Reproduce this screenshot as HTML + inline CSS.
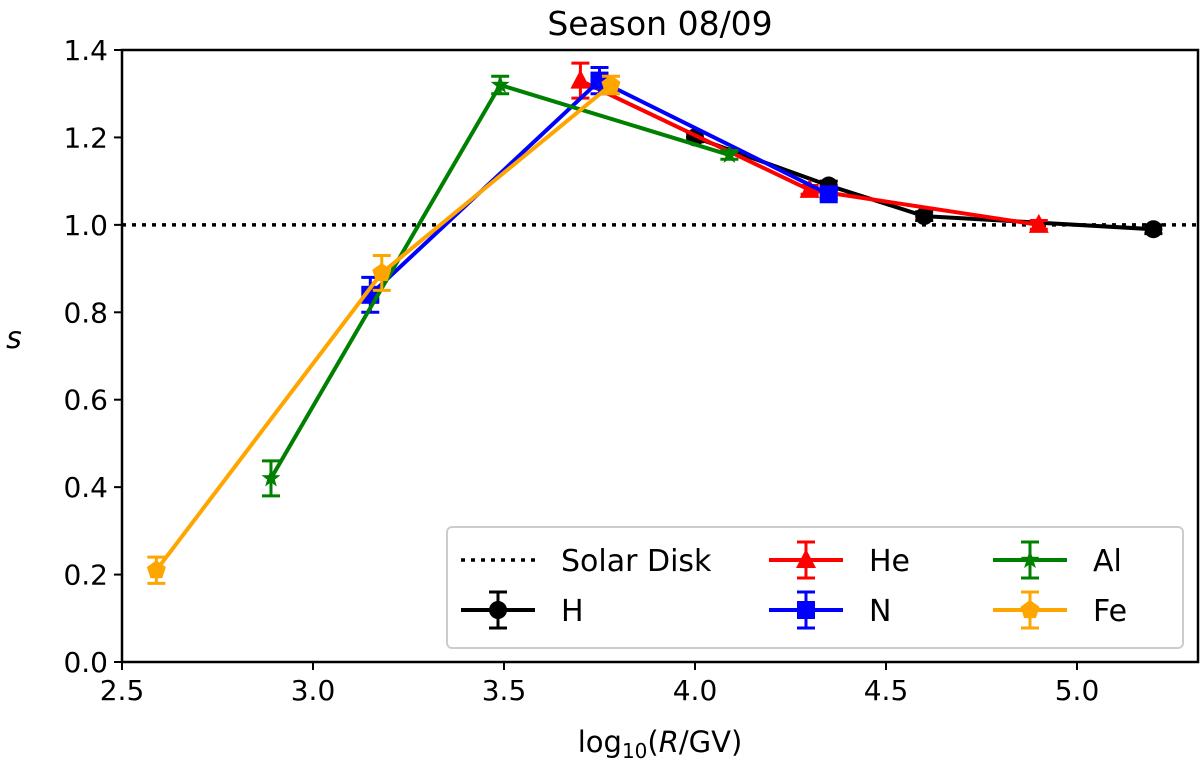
<!DOCTYPE html>
<html><head><meta charset="utf-8"><style>
body{margin:0;background:#fff;}
svg text{font-family:"DejaVu Sans","Liberation Sans",sans-serif;}
</style></head><body>
<svg id="chart" width="1200" height="769" xmlns="http://www.w3.org/2000/svg">
<g id="plot"></g>
</svg>
<script>
const xTicks=[2.5,3.0,3.5,4.0,4.5,5.0];
const yTicks=[0.0,0.2,0.4,0.6,0.8,1.0,1.2,1.4];
const hX=[4.0,4.35,4.6,5.2], hY=[1.20,1.09,1.02,0.99], hE=[0.01,0.01,0.01,0.01];
const heX=[3.7,4.3,4.9], heY=[1.33,1.08,1.00], heE=[0.04,0.01,0.01];
const nX=[3.15,3.75,4.35], nY=[0.84,1.33,1.07], nE=[0.04,0.03,0.01];
const alX=[2.89,3.49,4.09], alY=[0.42,1.32,1.16], alE=[0.04,0.02,0.01];
const feX=[2.59,3.18,3.78], feY=[0.21,0.89,1.32], feE=[0.03,0.04,0.02];
const NS="http://www.w3.org/2000/svg";
const L=122,R=1198,T=50,B=662;
const xs=v=>313+(v-3.0)*382;
const ys=v=>B-v*(B-T)/1.4;
const g=document.getElementById('plot');
function el(t,a,p){const e=document.createElementNS(NS,t);for(const k in a)e.setAttribute(k,a[k]);(p||g).appendChild(e);return e;}
const sd=el('line',{x1:L,x2:R,y1:ys(1),y2:ys(1),stroke:'#000','stroke-width':3.5,'stroke-dasharray':'4 6'});


function marker(shape,x,y,c,p){
  let m;
  if(shape==='o')m=el('circle',{cx:x,cy:y,r:9,fill:c},p);
  else if(shape==='s')m=el('rect',{x:x-9,y:y-9,width:18,height:18,fill:c},p);
  else if(shape==='^')m=el('polygon',{points:`${x},${y-11} ${x-10},${y+8} ${x+10},${y+8}`,fill:c},p);
  else if(shape==='*'){let pts=[];for(let i=0;i<10;i++){const r=i%2?4:10,a=-Math.PI/2+i*Math.PI/5;pts.push((x+r*Math.cos(a))+','+(y+r*Math.sin(a)));}m=el('polygon',{points:pts.join(' '),fill:c},p);}
  else {let pts=[];for(let i=0;i<5;i++){const a=-Math.PI/2+i*2*Math.PI/5;pts.push((x+10*Math.cos(a))+','+(y+10*Math.sin(a)));}m=el('polygon',{points:pts.join(' '),fill:c},p);}
  return m;
}
function series(name,X,Y,E,c,shape){
  const sg=el('g',{});
  
  
  el('polyline',{points:X.map((x,i)=>xs(x)+','+ys(Y[i])).join(' '),fill:'none',stroke:c,'stroke-width':4},sg);
  X.forEach((x,i)=>{
    const px=xs(x),y1=ys(Y[i]+E[i]),y2=ys(Y[i]-E[i]);
    el('line',{x1:px,x2:px,y1:y1,y2:y2,stroke:c,'stroke-width':3},sg);
    el('line',{x1:px-9,x2:px+9,y1:y1,y2:y1,stroke:c,'stroke-width':3},sg);
    el('line',{x1:px-9,x2:px+9,y1:y2,y2:y2,stroke:c,'stroke-width':3},sg);
    const m=marker(shape,px,ys(Y[i]),c,sg);
    
    
  });
}
series('h',hX,hY,hE,'#000','o');
series('he',heX,heY,heE,'#f00','^');
series('n',nX,nY,nE,'#00f','s');
series('al',alX,alY,alE,'#008000','*');
series('fe',feX,feY,feE,'#ffa500','p');
const fr=el('rect',{x:L,y:T,width:R-L,height:B-T,fill:'none',stroke:'#000','stroke-width':2.5});


xTicks.forEach(v=>{
  el('line',{x1:xs(v),x2:xs(v),y1:B,y2:B+8,stroke:'#000','stroke-width':2});
  const t=el('text',{x:xs(v),y:B+38,'text-anchor':'middle','font-size':28});
  t.textContent=v.toFixed(1);
  
  
});
yTicks.forEach(v=>{
  el('line',{x1:L-8,x2:L,y1:ys(v),y2:ys(v),stroke:'#000','stroke-width':2});
  const t=el('text',{x:L-14,y:ys(v)+10,'text-anchor':'end','font-size':28});
  t.textContent=v.toFixed(1);
  
  
});
const lg=el('g',{});


el('rect',{x:447,y:527,width:736,height:121,rx:5,fill:'#fff',stroke:'#ccc','stroke-width':2,'fill-opacity':0.9},lg);
const items=[['Solar Disk',null,null,461,560],['H','#000','o',461,610],['He','#f00','^',769,560],['N','#00f','s',769,610],['Al','#008000','*',993,560],['Fe','#ffa500','p',993,610]];
items.forEach(([lab,c,s,x,y])=>{
  const ig=el('g',{},lg);
  
  
  if(!c){el('line',{x1:x,x2:x+74,y1:y,y2:y,stroke:'#000','stroke-width':3.5,'stroke-dasharray':'4 6'},ig);}
  else{
    el('line',{x1:x,x2:x+74,y1:y,y2:y,stroke:c,'stroke-width':4},ig);
    el('line',{x1:x+37,x2:x+37,y1:y-18,y2:y+18,stroke:c,'stroke-width':3},ig);
    el('line',{x1:x+28,x2:x+46,y1:y-18,y2:y-18,stroke:c,'stroke-width':3},ig);
    el('line',{x1:x+28,x2:x+46,y1:y+18,y2:y+18,stroke:c,'stroke-width':3},ig);
    marker(s,x+37,y,c,ig);
  }
  const t=el('text',{x:x+100,y:y+11,'font-size':30},ig);t.textContent=lab;
});
const title=el('text',{x:660,y:35,'text-anchor':'middle','font-size':33});title.textContent='Season 08/09';

const xl=el('text',{x:660,y:752,'text-anchor':'middle','font-size':29});
xl.innerHTML='log<tspan font-size="20" dy="6">10</tspan><tspan dy="-6">(</tspan><tspan font-style="italic">R</tspan>/GV)';

const yl=el('text',{x:14,y:348,'font-size':30,'font-style':'italic','text-anchor':'middle'});yl.textContent='s';

</script>
</body></html>
